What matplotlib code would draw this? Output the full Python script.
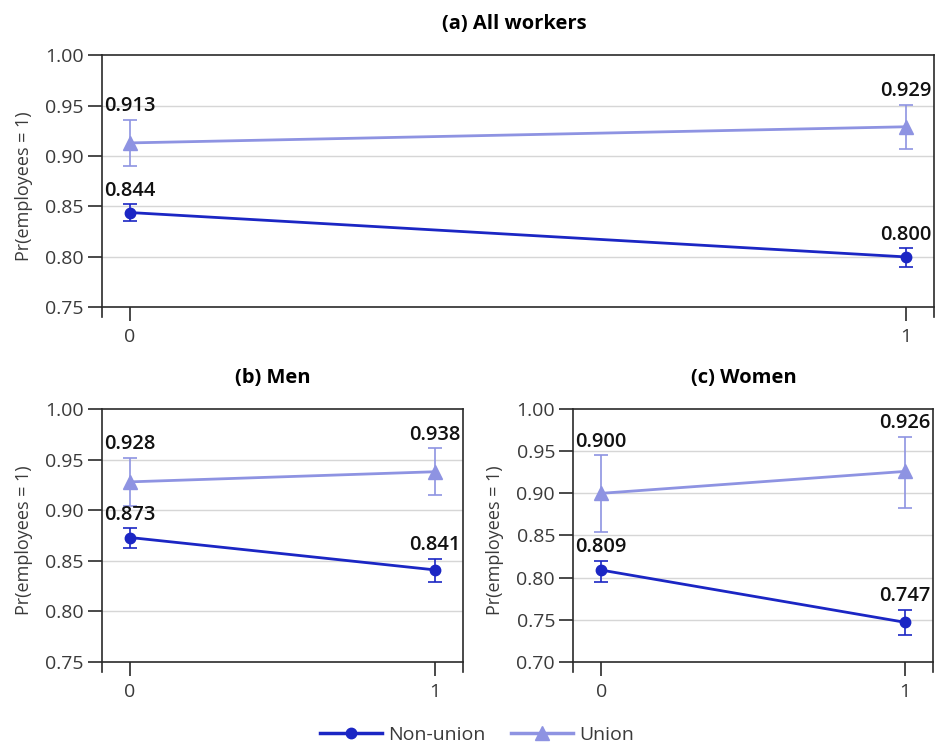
import numpy as np
import matplotlib
matplotlib.use("Agg")
import matplotlib.pyplot as plt

plt.rcParams['font.family'] = ['Open Sans', 'DejaVu Sans']

# x categories
x_vals = [0, 1]
x_labels = ['0', '1']

# (a) All workers
all_nonunion = [0.844, 0.800]
all_nonunion_lo = [0.836, 0.790]
all_nonunion_hi = [0.852, 0.809]
all_union = [0.913, 0.929]
all_union_lo = [0.890, 0.907]
all_union_hi = [0.936, 0.951]

# (b) Men
men_nonunion = [0.873, 0.841]
men_nonunion_lo = [0.863, 0.829]
men_nonunion_hi = [0.882, 0.852]
men_union = [0.928, 0.938]
men_union_lo = [0.904, 0.915]
men_union_hi = [0.952, 0.961]

# (c) Women
women_nonunion = [0.809, 0.747]
women_nonunion_lo = [0.795, 0.732]
women_nonunion_hi = [0.820, 0.762]
women_union = [0.900, 0.926]
women_union_lo = [0.854, 0.883]
women_union_hi = [0.945, 0.967]

dark = '#1b26c4'
light = '#8e93e2'
tick_col = '#3a3a3a'
spine_col = '#2a2a2a'


def draw_panel(ax, title, tx, nonunion, nlo, nhi, union, ulo, uhi, yticks):
    ymin = yticks[0]
    step = 0.0099 * (yticks[-1] - yticks[0]) / 0.25
    ax.set_ylim(ymin - step, yticks[-1])
    wide = ax.get_position().width > 0.5
    ax.set_xlim(-0.036 if wide else -0.092, 1.036 if wide else 1.092)

    for y in yticks[1:-1]:
        ax.axhline(y, color='#d6d6d6', lw=1.0, zorder=0)

    for vals, lo, hi, col, mk, ms in [(nonunion, nlo, nhi, dark, 'o', 7.5),
                                      (union, ulo, uhi, light, '^', 9.5)]:
        vals = np.array(vals)
        err = [vals - np.array(lo), np.array(hi) - vals]
        ax.errorbar(x_vals, vals, yerr=err, fmt='none', ecolor=col,
                    elinewidth=1.2, capsize=5, capthick=1.2, zorder=2)
        ax.plot(x_vals, vals, color=col, lw=2.0, marker=mk, ms=ms, zorder=3)
        for xv, v, h in zip(x_vals, vals, hi):
            ax.annotate(f'{v:.3f}', (xv, h), xytext=(0, 6),
                        textcoords='offset points', ha='center', va='baseline',
                        fontsize=14.5, color='#111111', fontweight='semibold')

    ax.set_yticks(yticks)
    ax.set_yticklabels([f'{y:.2f}' for y in yticks])
    ax.set_xticks(x_vals)
    ax.set_xticklabels(x_labels)
    ax.spines['bottom'].set_position(('data', ymin))
    for s in ax.spines.values():
        s.set_color(spine_col)
        s.set_linewidth(1.2)
    ax.tick_params(axis='both', direction='out', length=10, width=1.2,
                   color=spine_col, labelcolor=tick_col, labelsize=14, pad=3)
    ax.tick_params(axis='x', pad=5)
    ax.set_ylabel('Pr(employees = 1)', fontsize=13, color=tick_col, labelpad=9)
    ax.set_title(title, x=tx, fontsize=14.5, fontweight='bold', pad=19)


fig = plt.figure(figsize=(9.35, 7.45), dpi=100)
ax_a = fig.add_axes([0.1091, 0.574, 0.890, 0.352])
ax_b = fig.add_axes([0.1091, 0.098, 0.386, 0.353])
ax_c = fig.add_axes([0.613, 0.098, 0.385, 0.353])

draw_panel(ax_a, '(a) All workers', 0.495, all_nonunion, all_nonunion_lo, all_nonunion_hi,
           all_union, all_union_lo, all_union_hi, [0.75, 0.80, 0.85, 0.90, 0.95, 1.00])
draw_panel(ax_b, '(b) Men', 0.472, men_nonunion, men_nonunion_lo, men_nonunion_hi,
           men_union, men_union_lo, men_union_hi, [0.75, 0.80, 0.85, 0.90, 0.95, 1.00])
draw_panel(ax_c, '(c) Women', 0.475, women_nonunion, women_nonunion_lo, women_nonunion_hi,
           women_union, women_union_lo, women_union_hi,
           [0.70, 0.75, 0.80, 0.85, 0.90, 0.95, 1.00])

h1, = ax_a.plot([], [], color=dark, lw=2.5, marker='o', ms=7.5)
h2, = ax_a.plot([], [], color=light, lw=2.5, marker='^', ms=9.5)
fig.legend([h1, h2], ['Non-union', 'Union'], loc='lower center',
           bbox_to_anchor=(0.51, -0.022), ncol=2, frameon=False, fontsize=14,
           handlelength=3.2, handletextpad=0.3, columnspacing=1.3,
           labelcolor=tick_col)

fig.savefig('out.png', dpi=100)
